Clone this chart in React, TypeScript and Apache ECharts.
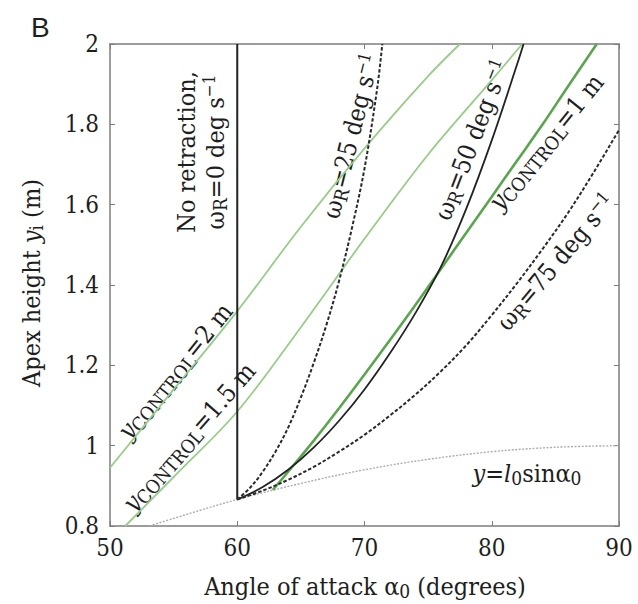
import React, { useEffect, useRef } from "react";
import * as echarts from "echarts";

// ---- data ----
const X_TICKS = [50, 60, 70, 80, 90];
const Y_TICKS = [0.8, 1, 1.2, 1.4, 1.6, 1.8, 2];

const ALPHA_SIN = [53.1, 55, 60, 65, 70, 75, 80, 85, 90];
const Y_SIN = [0.8, 0.819, 0.866, 0.906, 0.94, 0.966, 0.985, 0.996, 1.0];

const ALPHA_W0 = [60, 60];
const Y_W0 = [0.866, 2.0];

const ALPHA_W25 = [60, 61, 62, 63, 64, 65, 66, 67, 68, 69, 70, 71, 71.4];
const Y_W25 = [0.866, 0.895, 0.935, 0.985, 1.045, 1.12, 1.205, 1.3, 1.41, 1.54, 1.69, 1.89, 2.0];

const ALPHA_W50 = [60, 62, 64, 66, 68, 70, 72, 74, 76, 78, 80, 82, 82.5];
const Y_W50 = [0.866, 0.897, 0.94, 0.995, 1.062, 1.14, 1.23, 1.33, 1.445, 1.59, 1.76, 1.95, 2.0];

const ALPHA_W75 = [60, 62, 64, 66, 68, 70, 72, 74, 76, 78, 80, 82, 84, 86, 88, 90];
const Y_W75 = [0.866, 0.888, 0.915, 0.947, 0.985, 1.027, 1.075, 1.127, 1.185, 1.25, 1.325, 1.405, 1.49, 1.58, 1.68, 1.786];

const ALPHA_C2 = [50, 55, 60, 65, 70, 75, 77.5];
const Y_C2 = [0.945, 1.14, 1.335, 1.545, 1.74, 1.92, 2.0];

const ALPHA_C15 = [51.2, 55, 60, 65, 70, 75, 80, 82.4];
const Y_C15 = [0.8, 0.922, 1.085, 1.295, 1.515, 1.725, 1.91, 2.0];

const ALPHA_C1 = [62.8, 64, 66, 68, 70, 72, 74, 76, 78, 80, 82, 84, 86, 88.25];
const Y_C1 = [0.89, 0.935, 1.012, 1.093, 1.177, 1.263, 1.35, 1.44, 1.53, 1.62, 1.71, 1.8, 1.895, 2.0];

const zip = (a: number[], b: number[]) => a.map((v, i) => [v, b[i]]);

const SERIF = "DejaVu Serif Condensed, DejaVu Serif";
const INK = "#1e1e1e";
const FS = 25;

const rich = (fs: number) => ({
  n: { fontFamily: SERIF, fontSize: fs, lineHeight: fs + 4, fill: INK },
  i: { fontFamily: SERIF, fontSize: fs, fontStyle: "italic", lineHeight: fs + 4, fill: INK },
  s: { fontFamily: SERIF, fontSize: Math.round(fs * 0.76), lineHeight: Math.round(fs * 0.76), verticalAlign: "bottom", fill: INK },
  p: { fontFamily: SERIF, fontSize: Math.round(fs * 0.66), lineHeight: Math.round(fs * 0.66), verticalAlign: "top", fill: INK },
});

const label = (text: string, x: number, y: number, deg: number, fs = FS) => ({
  type: "text",
  x,
  y,
  rotation: (deg * Math.PI) / 180,
  silent: true,
  style: {
    text,
    align: "center",
    verticalAlign: "middle",
    fontFamily: SERIF,
    fontSize: fs,
    rich: rich(fs),
    fill: INK,
  },
});

export default function App() {
  const ref = useRef<HTMLDivElement>(null);
  useEffect(() => {
    const chart = echarts.init(ref.current!, null, { renderer: "svg" });
    const frame = "#7c7c7c";
    const axisCommon = {
      axisLine: { show: true, onZero: false, lineStyle: { color: frame, width: 1.5 } },
      axisTick: { show: true, inside: true, length: 5, lineStyle: { color: frame, width: 1 } },
      splitLine: { show: false },
    };
    const line = (data: number[][], color: string, width: number, type: any = "solid", z = 2) => ({
      type: "line",
      data,
      showSymbol: false,
      symbol: "none",
      smooth: 0.35,
      z,
      lineStyle: { color, width, type },
      silent: true,
    });
    chart.setOption({
      animation: false,
      textStyle: { fontFamily: SERIF },
      grid: { left: 110, right: 19, top: 44, bottom: 78 },
      xAxis: [
        {
          type: "value",
          min: X_TICKS[0],
          max: X_TICKS[X_TICKS.length - 1],
          interval: 10,
          ...axisCommon,
          axisLabel: { margin: 10, fontFamily: SERIF, fontSize: 24, color: INK },
        },
        {
          type: "value",
          position: "top",
          min: X_TICKS[0],
          max: X_TICKS[X_TICKS.length - 1],
          interval: 10,
          ...axisCommon,
          axisLabel: { show: false },
        },
      ],
      yAxis: [
        {
          type: "value",
          min: Y_TICKS[0],
          max: Y_TICKS[Y_TICKS.length - 1],
          interval: 0.2,
          ...axisCommon,
          axisLabel: {
            margin: 11,
            fontFamily: SERIF,
            fontSize: 24,
            color: INK,
            formatter: (v: number) => String(+v.toFixed(1)),
          },
        },
        {
          type: "value",
          position: "right",
          min: Y_TICKS[0],
          max: Y_TICKS[Y_TICKS.length - 1],
          interval: 0.2,
          ...axisCommon,
          axisLabel: { show: false },
        },
      ],
      series: [
        line(zip(ALPHA_SIN, Y_SIN), "#adadad", 1.4, [2, 1.5], 1),
        line(zip(ALPHA_C2, Y_C2), "#98cc88", 1.8, "solid", 2),
        line(zip(ALPHA_C15, Y_C15), "#98cc88", 1.8, "solid", 2),
        line(zip(ALPHA_C1, Y_C1), "#5aa54e", 2.6, "solid", 2),
        line(zip(ALPHA_W0, Y_W0), "#222", 2, "solid", 3),
        line(zip(ALPHA_W25, Y_W25), "#2a2a2a", 2, [3.5, 2], 3),
        line(zip(ALPHA_W50, Y_W50), "#222", 1.8, "solid", 3),
        line(zip(ALPHA_W75, Y_W75), "#2a2a2a", 2, [3.5, 2], 3),
      ],
      graphic: [
        {
          type: "text",
          left: 31,
          top: 13,
          silent: true,
          style: { text: "B", fontFamily: "Liberation Sans, DejaVu Sans", fontSize: 28, fill: INK },
        },
        label("{n|No retraction,}", 186, 152, 90),
        label("{n|ω}{s|R}{n|=0 deg s}{p|−1}", 215, 152, 90),
        label("{i|y}{s|CONTROL}{n|=2 m}", 175, 371, 51),
        label("{i|y}{s|CONTROL}{n|=1.5 m}", 189, 437, 49),
        label("{n|ω}{s|R}{n|=25 deg s}{p|−1}", 351, 136, 76),
        label("{n|ω}{s|R}{n|=50 deg s}{p|−1}", 472, 140, 69),
        label("{i|y}{s|CONTROL}{n|=1 m}", 546, 142, 51),
        label("{n|ω}{s|R}{n|=75 deg s}{p|−1}", 556, 262, 50),
        label("{i|y}{n|=}{i|l}{s|0}{n|sinα}{s|0}", 527, 473, 0),
        label("{n|Angle of attack α}{s|0}{n| (degrees)}", 365, 586, 0, 25),
        label("{n|Apex height }{i|y}{s|i}{n| (m)}", 31, 283, 90, 25),
      ],
    });
    return () => chart.dispose();
  }, []);
  return (
    <div
      ref={ref}
      style={{ position: "absolute", left: 0, top: 0, width: 638, height: 604, background: "#fff" }}
    />
  );
}
